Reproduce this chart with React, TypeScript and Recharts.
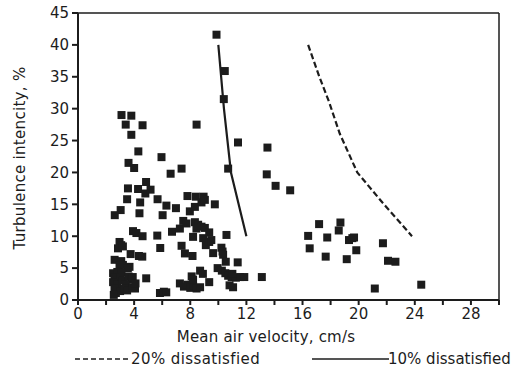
import React from "react";
import {
  ReferenceLine,
  Scatter,
  ScatterChart,
  XAxis,
  YAxis,
  ZAxis,
} from "recharts";

// measured points: [mean air velocity cm/s, turbulence intensity %]
const measured: [number, number][] = [
  [9.87, 41.6], [10.46, 35.9], [10.39, 31.5], [11.4, 24.7], [10.7, 20.6],
  [3.1, 29.0], [3.8, 28.9], [3.4, 27.5], [4.6, 27.4], [3.8, 25.9], [4.3, 23.3], [3.6, 21.5], [4.0, 20.7],
  [5.95, 22.4], [6.6, 19.8], [7.38, 20.6], [8.45, 27.5],
  [3.56, 17.5], [4.28, 17.4], [4.85, 18.5], [4.8, 16.7], [5.17, 17.3],
  [5.67, 15.8], [7.8, 16.3], [8.4, 16.2], [8.95, 16.2],
  [13.5, 23.9], [13.45, 19.7], [14.08, 17.9], [15.12, 17.2],
  [3.5, 15.8], [4.43, 15.3], [3.04, 14.1], [2.62, 13.3], [4.38, 13.6],
  [6.3, 14.8], [6.03, 13.3], [6.98, 14.4], [7.97, 13.9], [8.33, 14.6], [8.8, 15.3], [9.04, 15.7], [9.75, 15.0],
  [3.92, 10.8], [4.16, 10.5], [4.6, 10.0], [5.65, 10.1], [6.7, 10.7], [7.26, 11.2],
  [7.5, 12.4], [7.73, 12.0], [8.33, 12.2], [8.56, 11.8], [8.8, 11.5], [9.04, 11.3], [8.44, 11.2], [9.35, 10.6],
  [8.2, 9.9], [8.92, 9.7], [9.11, 8.6], [9.35, 9.1], [9.5, 9.4], [10.58, 10.2],
  [2.96, 9.1], [3.08, 8.6], [2.85, 8.1], [3.2, 8.4], [5.86, 8.15], [3.75, 7.2], [4.34, 6.9], [4.58, 6.8],
  [7.38, 8.5], [7.62, 7.3], [8.16, 6.9], [9.63, 7.35], [10.22, 8.2], [10.3, 7.6], [10.34, 7.1], [10.53, 6.0], [11.38, 5.9],
  [2.61, 6.3], [3.08, 6.1], [3.2, 5.5], [2.96, 5.4], [3.67, 5.2], [3.55, 5.0],
  [2.5, 4.2], [2.8, 4.4], [3.1, 4.3], [2.6, 3.6], [3.0, 3.5], [2.5, 2.8], [2.8, 2.4], [3.2, 3.1],
  [3.6, 3.7], [3.8, 3.2], [3.4, 2.5], [2.6, 1.8], [2.7, 1.1], [3.0, 1.4], [3.3, 1.8], [3.5, 1.5],
  [3.9, 2.0], [4.06, 1.8], [2.55, 0.8], [3.9, 3.6], [4.1, 2.6],
  [4.86, 3.4], [5.84, 1.1], [6.12, 1.3], [6.29, 1.2],
  [7.26, 2.6], [7.55, 2.1], [7.8, 2.4], [8.0, 1.9], [8.2, 2.2], [8.45, 1.8], [8.7, 2.0], [8.1, 3.7],
  [8.2, 3.2], [8.7, 4.6], [8.9, 4.1], [9.35, 2.8],
  [9.95, 5.0], [10.25, 4.6], [10.5, 4.2], [10.7, 3.8], [10.95, 3.6], [11.25, 3.5], [11.55, 3.6], [11.85, 3.6], [11.0, 4.1],
  [10.8, 2.3], [11.05, 2.0], [13.1, 3.6],
  [17.18, 11.9], [18.7, 12.15], [18.58, 10.9], [16.4, 10.05], [17.76, 9.8], [19.31, 9.4], [19.55, 9.7], [19.67, 9.8],
  [16.51, 8.1], [19.83, 7.8], [17.65, 6.8], [19.15, 6.4], [21.73, 8.9], [22.09, 6.15], [22.62, 6.0],
  [21.15, 1.8], [24.46, 2.4],
];

// comfort limit curves
const dissatisfied20: [number, number][] = [
  [16.4, 40], [17.2, 35], [17.9, 31], [18.65, 26.1], [19.9, 20], [21.8, 15], [23.8, 10],
];
const dissatisfied10: [number, number][] = [
  [10.0, 40], [10.4, 30], [10.9, 20], [12.0, 10],
];

const xTicks = [0, 2, 4, 6, 8, 10, 12, 14, 16, 18, 20, 22, 24, 26, 28, 30];
const yTicks = [0, 5, 10, 15, 20, 25, 30, 35, 40, 45];

const toRows = (pts: [number, number][]) => pts.map(([x, y]) => ({ x, y }));

const INK = "#1c1c1c";
const FONT = "'DejaVu Sans', sans-serif";

export default function App() {
  const tickStyle = { fontSize: 15, fill: INK, fontFamily: FONT };
  return (
    <div style={{ position: "fixed", left: 0, top: 0, width: 513, height: 372, background: "#fff" }}>
      <ScatterChart width={513} height={372} margin={{ top: 13, right: 14, bottom: 42, left: 0 }}>
        <XAxis
          type="number"
          dataKey="x"
          domain={[0, 30]}
          ticks={xTicks}
          interval={0}
          tickFormatter={(v) => (v % 4 === 0 && v < 30 ? String(v) : "")}
          tick={tickStyle}
          tickSize={5}
          tickMargin={3}
          height={30}
          stroke={INK}
          strokeWidth={2}
          allowDataOverflow
        />
        <YAxis
          type="number"
          dataKey="y"
          domain={[0, 45]}
          ticks={yTicks}
          interval={0}
          tick={tickStyle}
          tickSize={6}
          tickMargin={3}
          width={78}
          stroke={INK}
          strokeWidth={2}
          allowDataOverflow
        />
        <ZAxis range={[25, 25]} />
        <ReferenceLine y={45} stroke={INK} strokeWidth={1.5} />
        <ReferenceLine x={30} stroke={INK} strokeWidth={1.5} />
        <Scatter data={toRows(measured)} fill={INK} shape="square" isAnimationActive={false} />
        <Scatter
          data={toRows(dissatisfied20)}
          line={{ stroke: INK, strokeWidth: 2.2, strokeDasharray: "6 3" }}
          shape={() => <g />}
          isAnimationActive={false}
        />
        <Scatter
          data={toRows(dissatisfied10)}
          line={{ stroke: INK, strokeWidth: 2.2 }}
          shape={() => <g />}
          isAnimationActive={false}
        />
      </ScatterChart>
      <svg
        width={513}
        height={372}
        style={{ position: "absolute", left: 0, top: 0, pointerEvents: "none" }}
        fontFamily={FONT}
        fill={INK}
      >
        <text x={20} y={158} fontSize={15} letterSpacing={0.3} textAnchor="middle" dominantBaseline="middle" transform="rotate(-90 20 158)">
          Turbulence intencity, %
        </text>
        <text x={266} y={337} fontSize={15} letterSpacing={0.2} textAnchor="middle" dominantBaseline="middle">
          Mean air velocity, cm/s
        </text>
        <line x1={75} y1={359} x2={131} y2={359} stroke={INK} strokeWidth={1.6} strokeDasharray="5 3" />
        <text x={131} y={359} fontSize={15} letterSpacing={0.4} dominantBaseline="middle">20% dissatisfied</text>
        <line x1={312} y1={359} x2={389} y2={359} stroke={INK} strokeWidth={1.6} />
        <text x={388} y={359} fontSize={15} dominantBaseline="middle">10% dissatisfied</text>
      </svg>
    </div>
  );
}
